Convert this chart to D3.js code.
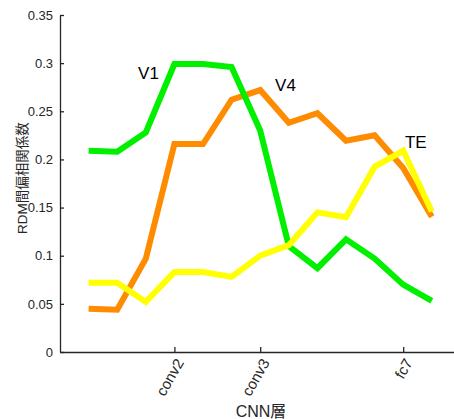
<!DOCTYPE html>
<html>
<head>
<meta charset="utf-8">
<script src="https://cdn.jsdelivr.net/npm/d3@7"></script>
<style>
  html, body { margin: 0; padding: 0; background: #fff; }
  svg { display: block; }
</style>
</head>
<body>
<svg id="chart" width="454" height="419"></svg>
<script>
// ---- data ----
const layers = [1, 2, 3, 4, 5, 6, 7, 8, 9, 10, 11, 12, 13];
const V1 = [0.209, 0.208, 0.228, 0.299, 0.299, 0.296, 0.230, 0.110, 0.087, 0.117, 0.097, 0.070, 0.053];
const V4 = [0.045, 0.044, 0.097, 0.216, 0.216, 0.262, 0.272, 0.238, 0.248, 0.2195, 0.225, 0.191, 0.1405];
const TE = [0.072, 0.072, 0.052, 0.083, 0.083, 0.078, 0.100, 0.111, 0.145, 0.140, 0.1925, 0.209, 0.146];
const seriesNames = ["V4", "V1", "TE"];
const seriesColors = ["#ff8c00", "#00f000", "#ffff00"];
const labelNames = ["V1", "V4", "TE"];
const labelX = [2.73, 7.52, 12.06];
const labelY = [0.2835, 0.271, 0.212];
const xTickValues = [4, 7, 12];
const xTickLabels = ["conv2", "conv3", "fc7"];
const yTickValues = [0, 0.05, 0.1, 0.15, 0.2, 0.25, 0.3, 0.35];
const yTickLabels = ["0", "0.05", "0.1", "0.15", "0.2", "0.25", "0.3", "0.35"];
const xTitle = "CNN層";
const yTitle = "RDM間偏相関係数";

const seriesData = { V1: V1, V4: V4, TE: TE };

const svg = d3.select("#chart");
const axisColor = "#262626";
const font = "'Liberation Sans', Arial, 'Noto Sans CJK JP', sans-serif";

const x = d3.scaleLinear().domain([0, 14]).range([60, 460.4]);
const y = d3.scaleLinear().domain([0, 0.35]).range([352, 15]);

// lines
const line = d3.line()
  .x((d, i) => x(layers[i]))
  .y(d => y(d))
  .curve(d3.curveLinear);

seriesNames.forEach((name, k) => {
  svg.append("path")
    .datum(seriesData[name])
    .attr("d", line)
    .attr("fill", "none")
    .attr("stroke", seriesColors[k])
    .attr("stroke-width", 6)
    .attr("stroke-linejoin", "miter")
    .attr("stroke-linecap", "butt");
});

// y axis
const yAxis = d3.axisLeft(y)
  .tickValues(yTickValues)
  .tickFormat((d, i) => yTickLabels[i])
  .tickSizeInner(-4)
  .tickSizeOuter(0)
  .tickPadding(7);
const gy = svg.append("g").attr("transform", "translate(60,0)").call(yAxis);
gy.select(".domain").attr("stroke", axisColor).attr("stroke-width", 1.3);
gy.selectAll(".tick line").attr("stroke", axisColor).attr("stroke-width", 1.3);
gy.selectAll(".tick text")
  .attr("fill", axisColor)
  .style("font-family", font)
  .style("font-size", "13px");

// x axis
const xAxis = d3.axisBottom(x)
  .tickValues(xTickValues)
  .tickFormat((d, i) => xTickLabels[i])
  .tickSizeInner(-5)
  .tickSizeOuter(0);
const gx = svg.append("g").attr("transform", "translate(0,352)").call(xAxis);
gx.select(".domain").attr("stroke", axisColor).attr("stroke-width", 1.3);
gx.selectAll(".tick line").attr("stroke", axisColor).attr("stroke-width", 1.3);
gx.selectAll(".tick text")
  .attr("fill", axisColor)
  .attr("x", 5)
  .attr("y", 8)
  .attr("dy", "0.35em")
  .attr("text-anchor", "end")
  .attr("transform", "rotate(-60 5 8)")
  .style("font-family", font)
  .style("font-size", "15px");

// series labels
svg.selectAll("text.serieslabel")
  .data(labelNames)
  .enter().append("text")
  .attr("class", "serieslabel")
  .attr("x", (d, i) => x(labelX[i]))
  .attr("y", (d, i) => y(labelY[i]))
  .attr("fill", "#000")
  .style("font-family", font)
  .style("font-size", "17px")
  .text(d => d);

// axis titles
svg.append("text")
  .attr("x", 261)
  .attr("y", 417)
  .attr("text-anchor", "middle")
  .attr("fill", axisColor)
  .style("font-family", font)
  .style("font-size", "16px")
  .text(xTitle);

svg.append("text")
  .attr("transform", "translate(27,178) rotate(-90)")
  .attr("text-anchor", "middle")
  .attr("fill", axisColor)
  .style("font-family", font)
  .style("font-size", "13.5px")
  .text(yTitle);
</script>
</body>
</html>
